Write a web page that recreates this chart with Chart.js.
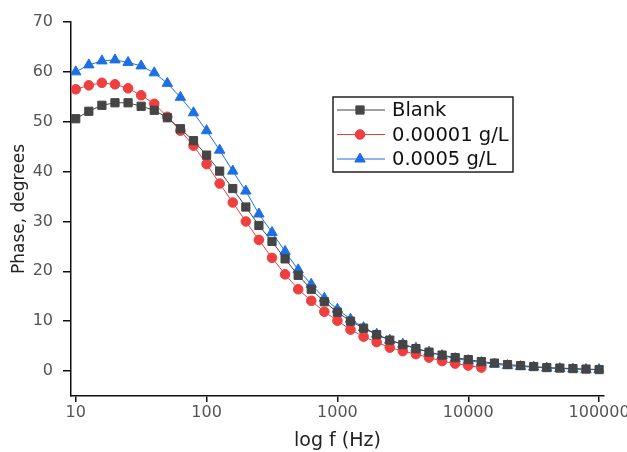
<!DOCTYPE html>
<html>
<head>
<meta charset="utf-8">
<script src="https://cdn.jsdelivr.net/npm/chart.js@4"></script>
<style>
  html, body { margin: 0; padding: 0; background: #fff; }
  #wrap { width: 627px; height: 452px; position: relative; }
</style>
</head>
<body>
<div id="wrap"><canvas id="chart-area" width="627" height="452"></canvas></div>
<script>
// frequency points, 10 per decade (Hz)
const freqs = [10, 12.59, 15.85, 19.95, 25.12, 31.62, 39.81, 50.12, 63.1, 79.43,
    100, 125.9, 158.5, 199.5, 251.2, 316.2, 398.1, 501.2, 631, 794.3,
    1000, 1259, 1585, 1995, 2512, 3162, 3981, 5012, 6310, 7943,
    10000, 12589, 15849, 19953, 25119, 31623, 39811, 50119, 63096, 79433, 100000];

const blankPhase = [50.6, 52.1, 53.3, 53.8, 53.8, 53.1, 52.3, 50.8, 48.6, 46.2,
    43.3, 40.1, 36.6, 32.9, 29.2, 26.0, 22.5, 19.2, 16.4, 13.9,
    11.8, 10.0, 8.6, 7.3, 6.2, 5.3, 4.5, 3.8, 3.2, 2.7,
    2.3, 1.9, 1.6, 1.3, 1.1, 0.9, 0.7, 0.6, 0.5, 0.4, 0.3];

const lowPhase = [56.5, 57.3, 57.8, 57.5, 56.7, 55.3, 53.6, 51.0, 48.2, 45.2,
    41.5, 37.6, 33.8, 30.0, 26.3, 22.7, 19.4, 16.4, 14.1, 11.9,
    10.1, 8.3, 6.9, 5.8, 4.7, 4.0, 3.4, 2.7, 2.0, 1.5,
    1.1, 0.7];

const highPhase = [60.0, 61.4, 62.2, 62.4, 61.9, 61.2, 59.8, 57.7, 54.9, 51.8,
    48.2, 44.3, 40.1, 36.1, 31.5, 27.8, 24.0, 20.3, 17.4, 14.6,
    12.4, 10.4, 8.7, 7.4, 6.2, 5.4, 4.6, 3.8, 3.1, 2.5,
    2.1, 1.7, 1.4, 1.1, 0.9, 0.8, 0.6, 0.5, 0.4, 0.3, 0.3];

const xTicks = [10, 100, 1000, 10000, 100000];
const yTicks = [0, 10, 20, 30, 40, 50, 60, 70];
const seriesNames = ['Blank', '0.00001 g/L', '0.0005 g/L'];

const colors = { blank: '#454545', low: '#ef3e3e', high: '#1d6fe3' };
const FONT = '"DejaVu Sans", Verdana, sans-serif';

function pts(vals) {
    return vals.map((v, i) => ({ x: freqs[i], y: v }));
}

// legend box drawn inside the plot
const boxLegend = {
    id: 'boxLegend',
    afterDraw(chart) {
        const ctx = chart.ctx;
        const x0 = 333, y0 = 97, w = 180, h = 75;
        ctx.save();
        ctx.strokeStyle = '#222';
        ctx.lineWidth = 1.5;
        ctx.strokeRect(x0, y0, w, h);
        ctx.font = '19.5px ' + FONT;
        ctx.textBaseline = 'middle';
        chart.data.datasets.forEach((ds, i) => {
            const y = y0 + 13 + i * 24.5;
            ctx.strokeStyle = ds.borderColor;
            ctx.lineWidth = 1;
            ctx.beginPath();
            ctx.moveTo(x0 + 4, y);
            ctx.lineTo(x0 + 52, y);
            ctx.stroke();
            ctx.fillStyle = ds.backgroundColor;
            ctx.strokeStyle = ds.borderColor;
            Chart.helpers.drawPoint(ctx, { pointStyle: ds.pointStyle, radius: ds.pointRadius, borderWidth: 1 }, x0 + 27, y);
            ctx.fillStyle = '#111';
            ctx.fillText(ds.label, x0 + 59, y + 1);
        });
        ctx.restore();
    }
};

const ctx = document.getElementById('chart-area').getContext('2d');
new Chart(ctx, {
    type: 'line',
    data: {
        datasets: [{
            label: seriesNames[0],
            data: pts(blankPhase),
            borderColor: colors.blank,
            backgroundColor: colors.blank,
            borderWidth: 1,
            pointStyle: 'rect',
            pointRadius: 5.8,
            pointBorderWidth: 1
        }, {
            label: seriesNames[1],
            data: pts(lowPhase),
            borderColor: colors.low,
            backgroundColor: colors.low,
            borderWidth: 1,
            pointStyle: 'circle',
            pointRadius: 4.8,
            pointBorderWidth: 1
        }, {
            label: seriesNames[2],
            data: pts(highPhase),
            borderColor: colors.high,
            backgroundColor: colors.high,
            borderWidth: 1,
            pointStyle: 'triangle',
            pointRadius: 6,
            pointBorderWidth: 1
        }]
    },
    options: {
        responsive: false,
        animation: false,
        layout: { padding: { top: 22, right: 23, left: 0, bottom: 0 } },
        plugins: {
            legend: { display: false },
            tooltip: { enabled: false }
        },
        scales: {
            x: {
                type: 'logarithmic',
                min: 9.2,
                max: 109000,
                afterBuildTicks: s => { s.ticks = xTicks.map(v => ({ value: v })); },
                afterFit: s => { s.height = 56; s.paddingLeft = 0; s.paddingRight = 0; },
                ticks: {
                    autoSkip: false,
                    maxRotation: 0,
                    padding: 1,
                    color: '#555',
                    font: { family: FONT, size: 16 },
                    callback: v => String(v)
                },
                grid: { drawOnChartArea: false, drawTicks: true, tickLength: 6, color: '#111', lineWidth: 1.5 },
                border: { display: true, color: '#111', width: 1.5 },
                title: {
                    display: true,
                    text: 'log f (Hz)',
                    color: '#222',
                    padding: { top: 0, bottom: 0 },
                    font: { family: FONT, size: 19 }
                }
            },
            y: {
                min: -5,
                max: 70,
                afterBuildTicks: s => { s.ticks = yTicks.map(v => ({ value: v })); },
                afterFit: s => { s.width = 71; s.paddingTop = 0; s.paddingBottom = 0; },
                ticks: {
                    padding: 10,
                    color: '#555',
                    font: { family: FONT, size: 16 }
                },
                grid: { drawOnChartArea: false, drawTicks: true, tickLength: 8, color: '#111', lineWidth: 1.5 },
                border: { display: true, color: '#111', width: 1.5 },
                title: {
                    display: true,
                    text: 'Phase, degrees',
                    color: '#222',
                    padding: { top: 9, bottom: 0 },
                    font: { family: FONT, size: 17 }
                }
            }
        }
    },
    plugins: [boxLegend]
});
</script>
</body>
</html>
